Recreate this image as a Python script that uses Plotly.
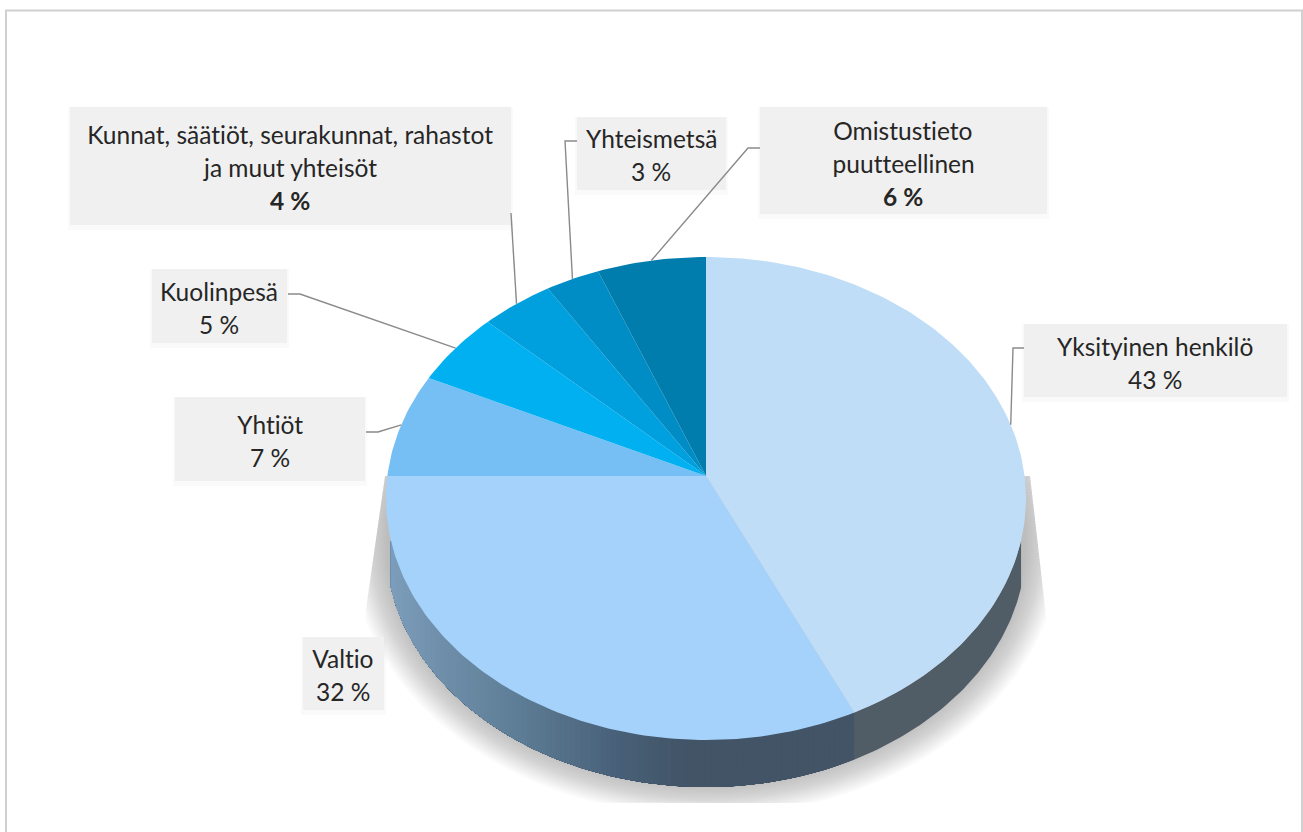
import numpy as np
import plotly.graph_objects as go

# Forest ownership shares, clockwise from twelve o'clock
categories = ["Yksityinen henkilö", "Valtio", "Yhtiöt", "Kuolinpesä",
              "Kunnat, säätiöt, seurakunnat, rahastot ja muut yhteisöt",
              "Yhteismetsä", "Omistustieto puutteellinen"]
shares = [43, 32, 7, 5, 4, 3, 6]
slice_colors = ["#BFDDF7", "#A5D2FB", "#75BFF5", "#00B0F0", "#009FDE", "#008DC6", "#007DAC"]

# Category name broken over the lines it is set on, and whether its percentage is bold
label_lines = [["Yksityinen henkilö"], ["Valtio"], ["Yhtiöt"], ["Kuolinpesä"],
               ["Kunnat, säätiöt, seurakunnat, rahastot", "ja muut yhteisöt"],
               ["Yhteismetsä"], ["Omistustieto", "puutteellinen"]]
bold_share = [False, False, False, False, True, False, True]

# Label layout: box (x0, x1, y0, y1), centre of text, first-line centre, leader start and elbow
label_boxes = [(1024, 1287, 324, 397), (303, 384, 637, 710), (175, 365, 397, 481),
               (152, 287, 269, 343), (70, 511, 107, 225), (577, 726, 117, 190),
               (760, 1047, 107, 214)]
text_centres = [(1155, 346), (343, 658), (270, 424), (219, 291), (290, 134), (651, 138), (903, 130)]
leader_paths = [[(1024, 348), (1013, 348)], None, [(366, 432), (378, 432)],
                [(288, 294), (300, 294)], [(511, 213), (513, 242)],
                [(577, 141), (565, 141)], [(760, 148), (748, 148)]]

# Tilted-disc projection of the pie
CX, CY = 706.0, 476.0
BX, BY, PERSP = 318.6, 239.4, 0.0932
DEPTH = 47.0


def project(frac, r=1.0):
    """Map a clockwise fraction of the circle onto the tilted disc."""
    th = 2 * np.pi * np.asarray(frac, dtype=float)
    u, v = r * np.sin(th), r * np.cos(th)
    den = 1 + PERSP * v
    return CX + BX * u / den, CY - BY * v / den


def rgb(c):
    return "rgb(%d,%d,%d)" % tuple(round(v) for v in c)


fig = go.Figure()


def poly(xs, ys, color):
    fig.add_trace(go.Scatter(
        x=list(xs), y=list(ys), mode="lines", fill="toself", fillcolor=color,
        line=dict(color=color, width=0), hoverinfo="skip", showlegend=False))


# Soft drop shadow: stacked translucent rings, trimmed to its rectangular image bounds
SHADOW_LAYERS = 26
t = np.linspace(0, 2 * np.pi, 241)
for i in range(SHADOW_LAYERS):
    d = 36 * (1 - i / (SHADOW_LAYERS - 1))
    sx = CX + (320 + d) * np.cos(t)
    sy = 540 + (244 + d * 0.9) * np.sin(t)
    sy = np.clip(sy, 476, 803)
    left = 385 - (sy - 476) * 0.143
    right = 1030 + (sy - 476) * 0.115
    sx = np.clip(sx, left, right)
    poly(sx, sy, "rgba(120,120,120,0.022)")

total = sum(shares)
edges = np.cumsum([0] + shares) / total
side_lo = 0.2925
side_hi = 0.7075


def wall(frac_start, color):
    # Wall from frac_start to its far end; later calls paint over the part they share
    fr = np.linspace(frac_start, side_hi, max(3, int((side_hi - frac_start) * 500)))
    xs, ys = project(fr)
    poly(np.r_[xs, xs[::-1]], np.r_[ys, (ys + DEPTH)[::-1]], color)


# Side wall: flat under the first slice, a horizontal gradient under the second
wall(side_lo, rgb((80, 92, 102)))
stops_x = [390, 440, 520, 620, 690, 853]
stops_c = [(125, 158, 188), (112, 143, 170), (94, 125, 150), (72, 96, 120), (66, 84, 102), (66, 84, 102)]
for a in np.linspace(edges[1], side_hi, 110, endpoint=False):
    xm = float(project(a)[0])
    wall(a, rgb(tuple(np.interp(xm, stops_x, [c[k] for c in stops_c]) for k in range(3))))

# Top face of the disc, one wedge per category
for start, end, col in zip(edges[:-1], edges[1:], slice_colors):
    fr = np.linspace(start, end, max(4, int((end - start) * 360)))
    xs, ys = project(fr)
    poly(np.r_[CX, xs, CX], np.r_[CY, ys, CY], col)

# Label boxes with a faint halo
for (x0, x1, y0, y1) in label_boxes:
    poly([x0 - 2, x1 + 2, x1 + 2, x0 - 2, x0 - 2], [y0, y0, y1 + 5, y1 + 5, y0], "rgba(210,210,210,0.12)")
    poly([x0, x1, x1, x0, x0], [y0, y0, y1, y1, y0], "#F0F0F0")

# Leader lines end on the rim at the middle of their slice
mids = (edges[:-1] + edges[1:]) / 2
for path, mid in zip(leader_paths, mids):
    if path is None:
        continue
    ex, ey = project(mid)
    fig.add_trace(go.Scatter(
        x=[p[0] for p in path] + [float(ex)], y=[p[1] for p in path] + [float(ey)],
        mode="lines", line=dict(color="#8A8A8A", width=1.4), hoverinfo="skip", showlegend=False))

# Label text, one annotation per line to keep the generous leading
LINE_STEP = 33
FONT = "Lato, Carlito, Calibri, sans-serif"
for lines, share, bold, (tx, ty) in zip(label_lines, shares, bold_share, text_centres):
    pct = f"{share} %"
    rows = lines + [f"<b>{pct}</b>" if bold else pct]
    for k, row in enumerate(rows):
        fig.add_annotation(x=tx, y=ty + k * LINE_STEP, text=row, showarrow=False,
                           xanchor="center", yanchor="middle",
                           font=dict(family=FONT, size=24.5, color="#262626"))

fig.update_layout(
    width=1303, height=832, autosize=False,
    margin=dict(l=0, r=0, t=0, b=0),
    paper_bgcolor="white", plot_bgcolor="white", showlegend=False,
    xaxis=dict(range=[0, 1303], visible=False, fixedrange=True),
    yaxis=dict(range=[832, 0], visible=False, fixedrange=True),
    shapes=[dict(type="path", path="M 6 832 L 6 10.5 L 1302 10.5 L 1302 832",
                 line=dict(color="#D0D0D0", width=2), layer="below")],
)

# Plain letterforms without the font's "ti" ligature
no_ligatures = ("var s=document.createElement('style');"
                "s.textContent='svg text{font-variant-ligatures:none !important;"
                "font-feature-settings:\"liga\" 0,\"clig\" 0,\"calt\" 0,\"dlig\" 0 !important;"
                "text-rendering:optimizeSpeed !important}';"
                "document.head.appendChild(s);")
fig.write_html("out.html", config=dict(displayModeBar=False), post_script=no_ligatures)
